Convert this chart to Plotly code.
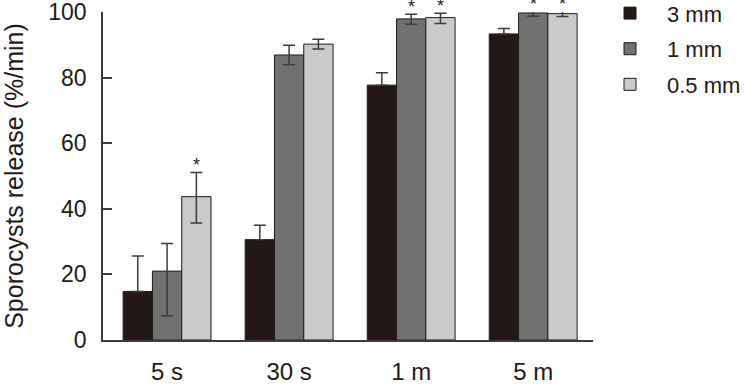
import plotly.graph_objects as go

categories = ["5 s", "30 s", "1 m", "5 m"]
series_names = ["3 mm", "1 mm", "0.5 mm"]
values_3mm = [14.8, 30.6, 77.7, 93.3]
err_up_3mm = [10.8, 4.4, 3.8, 1.7]
err_down_3mm = [0, 0, 0, 0]
values_1mm = [21.0, 86.9, 97.9, 99.7]
err_up_1mm = [8.4, 3.0, 1.4, 0.7]
err_down_1mm = [13.6, 3.0, 1.6, 1.0]
values_05mm = [43.7, 90.2, 98.3, 99.5]
err_up_05mm = [7.4, 1.5, 1.3, 0.7]
err_down_05mm = [8.0, 1.5, 1.8, 0.9]
# significance markers (True where an asterisk is shown)
star_3mm = [False, False, False, False]
star_1mm = [False, False, True, True]
star_05mm = [True, False, True, True]

colors = ["#231815", "#727171", "#c9caca"]
values = [values_3mm, values_1mm, values_05mm]
err_up = [err_up_3mm, err_up_1mm, err_up_05mm]
err_down = [err_down_3mm, err_down_1mm, err_down_05mm]
stars = [star_3mm, star_1mm, star_05mm]

FONT = "Liberation Sans, Arial, sans-serif"
TXT = "#231815"
BARGAP = 0.28
YMIN, YMAX = 0, 100

fig = go.Figure()
for k in range(3):
    fig.add_trace(go.Bar(
        x=categories, y=values[k], name=series_names[k],
        marker=dict(color=colors[k], line=dict(color="#231815", width=1)),
        error_y=dict(type="data", symmetric=False, array=err_up[k],
                     arrayminus=err_down[k], visible=True,
                     color="#3e3a39", thickness=1.5, width=6),
        legendgroup=series_names[k],
    ))

annotations = []
bw = (1 - BARGAP) / 3
for k in range(3):
    for i in range(len(categories)):
        if stars[k][i]:
            top = values[k][i] + err_up[k][i]
            annotations.append(dict(
                x=i + (k - 1) * bw, y=(top - YMIN) / (YMAX - YMIN),
                xref="x", yref="y domain", text="*", showarrow=False,
                yanchor="bottom", yshift=-5,
                font=dict(family=FONT, size=18, color=TXT)))

fig.update_layout(
    width=745, height=384,
    margin=dict(l=103, r=152, t=12, b=44, autoexpand=False),
    paper_bgcolor="white", plot_bgcolor="white",
    barmode="group", bargap=BARGAP, bargroupgap=0,
    font=dict(family=FONT, color=TXT, size=22),
    showlegend=True,
    legend=dict(x=1.0, y=1.06, xanchor="left", yanchor="top",
                traceorder="grouped", tracegroupgap=4, itemwidth=64,
                font=dict(family=FONT, size=22, color=TXT),
                bgcolor="rgba(0,0,0,0)"),
    annotations=annotations,
)
fig.update_xaxes(
    type="category", range=[-0.525, 3.49],
    showline=True, linecolor="#3e3a39", linewidth=1.5,
    ticks="", showgrid=False, ticklabelstandoff=9,
    tickfont=dict(family=FONT, size=24, color=TXT),
)
fig.update_yaxes(
    range=[YMIN, YMAX], dtick=20, tick0=0,
    showline=True, linecolor="#3e3a39", linewidth=1.5,
    ticks="inside", ticklen=9, tickwidth=1.5, tickcolor="#3e3a39",
    showgrid=False, zeroline=False, ticklabelstandoff=10,
    ticklabeloverflow="allow",
    tickfont=dict(family=FONT, size=23, color=TXT),
    title=dict(text="Sporocysts release (%/min)", standoff=20,
               font=dict(family=FONT, size=25, color=TXT)),
)

fig.write_html("out.html",
               config={"displayModeBar": False},
               post_script="document.body.style.margin='0';")
